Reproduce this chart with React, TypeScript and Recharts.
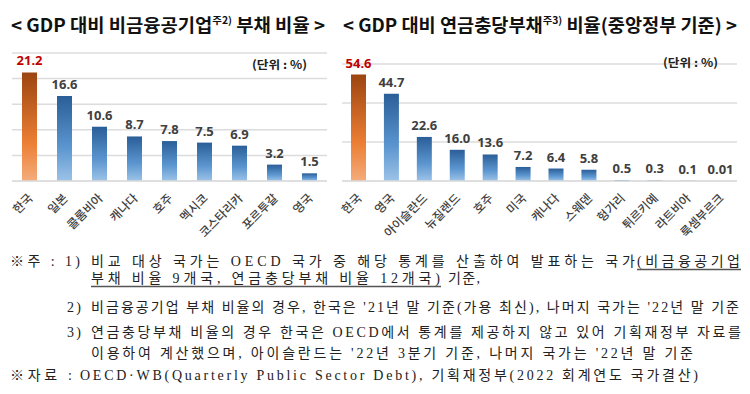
import React from "react";
import { BarChart, Bar, XAxis, YAxis, CartesianGrid, Cell, LabelList } from "recharts";

const debtCountries = ["한국", "일본", "콜롬비아", "캐나다", "호주", "멕시코", "코스타리카", "포르투갈", "영국"];
const debtValues = [21.2, 16.6, 10.6, 8.7, 7.8, 7.5, 6.9, 3.2, 1.5];
const debtTicks = [0, 5, 10, 15, 20, 25];

const pensionCountries = ["한국", "영국", "아이슬란드", "뉴질랜드", "호주", "미국", "캐나다", "스웨덴", "헝가리", "튀르키예", "라트비아", "룩셈부르크"];
const pensionValues = [54.6, 44.7, 22.6, 16.0, 13.6, 7.2, 6.4, 5.8, 0.5, 0.3, 0.1, 0.01];
const pensionTicks = [0, 10, 20, 30, 40, 50, 60];

const debtData = debtCountries.map((name, i) => ({ name, value: debtValues[i] }));
const pensionData = pensionCountries.map((name, i) => ({ name, value: pensionValues[i] }));

const SANS = "'Noto Sans CJK KR', 'Noto Sans', sans-serif";
const NOTE = "'Liberation Serif', 'Noto Sans CJK KR', serif";

const fmt = (v: number) => (v < 0.05 ? String(v) : v.toFixed(1));

const CountryTick = ({ x, y, payload }: any) => (
  <text
    x={x + 4}
    y={y + 10}
    transform={`rotate(-45, ${x + 4}, ${y + 10})`}
    textAnchor="end"
    fontSize={12}
    fontFamily={SANS}
    fontWeight={500}
    fill="#404040"
  >
    {payload.value}
  </text>
);

const ValueLabel = ({ x, y, width, value, index }: any) => (
  <text
    x={x + width / 2}
    y={y - 7}
    textAnchor="middle"
    fontSize={13}
    fontWeight={700}
    fontFamily="'Noto Sans', sans-serif"
    fill={index === 0 ? "#C00000" : "#404040"}
  >
    {fmt(value)}
  </text>
);

const Gradients = () => (
  <defs>
    <linearGradient id="orangeGrad" x1="0" y1="0" x2="0" y2="1">
      <stop offset="0%" stopColor="#9C4510" />
      <stop offset="65%" stopColor="#EC7F35" />
      <stop offset="100%" stopColor="#F4AC7C" />
    </linearGradient>
    <linearGradient id="blueGrad" x1="0" y1="0" x2="0" y2="1">
      <stop offset="0%" stopColor="#2A5E98" />
      <stop offset="60%" stopColor="#5B95CF" />
      <stop offset="100%" stopColor="#9CC3E8" />
    </linearGradient>
  </defs>
);

const RatioChart = ({ data, ticks, width, top }: { data: { name: string; value: number }[]; ticks: number[]; width: number; top: number }) => (
  <BarChart width={width} height={240} data={data} margin={{ top, right: 13, left: 12, bottom: 0 }}>
    <Gradients />
    <CartesianGrid vertical={false} stroke="#DCDCDC" strokeWidth={1.5} />
    <XAxis dataKey="name" interval={0} height={59} tickLine={false} axisLine={{ stroke: "#DCDCDC", strokeWidth: 1.5 }} tick={<CountryTick />} />
    <YAxis hide domain={[ticks[0], ticks[ticks.length - 1]]} ticks={ticks} />
    <Bar dataKey="value" barSize={15} isAnimationActive={false}>
      {data.map((d, i) => (
        <Cell key={d.name} fill={i === 0 ? "url(#orangeGrad)" : "url(#blueGrad)"} />
      ))}
      <LabelList dataKey="value" content={<ValueLabel />} />
    </Bar>
  </BarChart>
);

export default function App() {
  return (
    <div style={{ position: "absolute", left: 0, top: 0, width: 750, height: 394, background: "#fff", overflow: "hidden" }}>
      <div style={{ position: "absolute", left: 0, top: 0 }}>
        <RatioChart data={debtData} ticks={debtTicks} width={340} top={53} />
      </div>
      <div style={{ position: "absolute", left: 330, top: 0 }}>
        <RatioChart data={pensionData} ticks={pensionTicks} width={420} top={64} />
      </div>
      <svg width={750} height={394} style={{ position: "absolute", left: 0, top: 0, pointerEvents: "none" }}>
        {/* titles */}
        <text x={11} y={32} fontSize={18} fontWeight={700} fontFamily={SANS} fill="#111" textLength={314} lengthAdjust="spacingAndGlyphs">
          {"< GDP 대비 비금융공기업"}
          <tspan fontSize={10} dy={-8}>주2)</tspan>
          <tspan dy={8}>{" 부채 비율 >"}</tspan>
        </text>
        <text x={343} y={32} fontSize={18} fontWeight={700} fontFamily={SANS} fill="#111" textLength={394} lengthAdjust="spacingAndGlyphs">
          {"< GDP 대비 연금충당부채"}
          <tspan fontSize={10} dy={-8}>주3)</tspan>
          <tspan dy={8}>{" 비율(중앙정부 기준) >"}</tspan>
        </text>
        {/* units */}
        <text x={252} y={69} fontSize={11.5} fontWeight={700} fontFamily={SANS} fill="#222" textLength={55} lengthAdjust="spacingAndGlyphs">(단위 : %)</text>
        <text x={663} y={67} fontSize={11.5} fontWeight={700} fontFamily={SANS} fill="#222" textLength={55} lengthAdjust="spacingAndGlyphs">(단위 : %)</text>
        {/* notes */}
        <g fontSize={14} fontFamily={NOTE} fill="#222">
          <text x={10} y={266} textLength={70} lengthAdjust="spacing">※주 : 1)</text>
          <text x={91} y={266} textLength={544} lengthAdjust="spacing">비교 대상 국가는 OECD 국가 중 해당 통계를 산출하여 발표하는 국가</text>
          <text x={637} y={266} textLength={103} lengthAdjust="spacing">(비금융공기업</text>
          <line x1={637} x2={741} y1={269.5} y2={269.5} stroke="#555" strokeWidth={1.5} />
          <text x={91} y={283} textLength={349} lengthAdjust="spacing">부채 비율 9개국, 연금충당부채 비율 12개국)</text>
          <line x1={91} x2={441} y1={286.5} y2={286.5} stroke="#555" strokeWidth={1.5} />
          <text x={448} y={283} textLength={32} lengthAdjust="spacing">기준,</text>
          <text x={67} y={312} textLength={14} lengthAdjust="spacing">2)</text>
          <text x={91} y={312} textLength={648} lengthAdjust="spacing">비금융공기업 부채 비율의 경우, 한국은 '21년 말 기준(가용 최신), 나머지 국가는 '22년 말 기준</text>
          <text x={67} y={337} textLength={14} lengthAdjust="spacing">3)</text>
          <text x={91} y={337} textLength={650} lengthAdjust="spacing">연금충당부채 비율의 경우 한국은 OECD에서 통계를 제공하지 않고 있어 기획재정부 자료를</text>
          <text x={91} y={358} textLength={602} lengthAdjust="spacing">이용하여 계산했으며, 아이슬란드는 '22년 3분기 기준, 나머지 국가는 '22년 말 기준</text>
          <text x={10} y={380} textLength={62} lengthAdjust="spacing">※자료 :</text>
          <text x={80} y={380} textLength={618} lengthAdjust="spacing">OECD·WB(Quarterly Public Sector Debt), 기획재정부(2022 회계연도 국가결산)</text>
        </g>
      </svg>
    </div>
  );
}
